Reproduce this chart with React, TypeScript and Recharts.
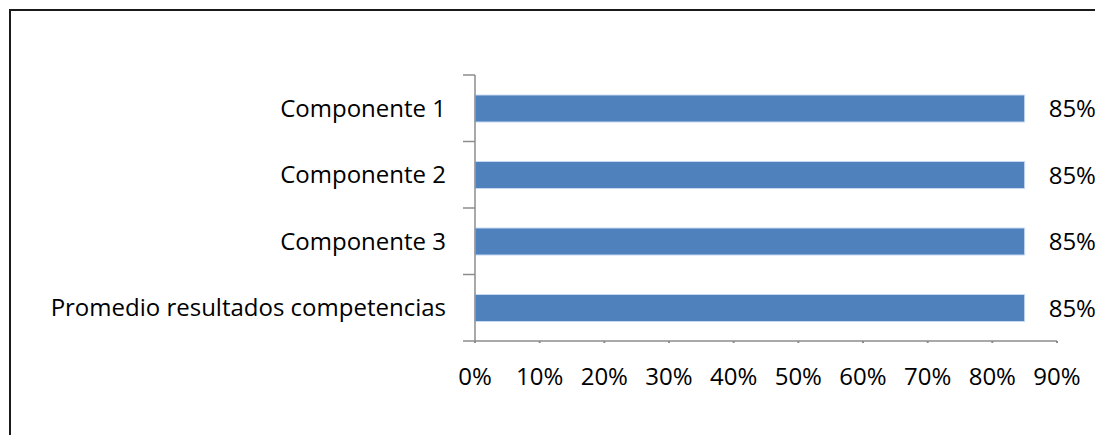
import React from 'react';
import { BarChart, Bar, XAxis, YAxis, LabelList } from 'recharts';

const categories = [
  'Componente 1',
  'Componente 2',
  'Componente 3',
  'Promedio resultados competencias',
];
const values = [0.85, 0.85, 0.85, 0.85];
const xTicks = [0, 0.1, 0.2, 0.3, 0.4, 0.5, 0.6, 0.7, 0.8, 0.9];
// band boundaries on the category axis (Excel puts ticks between categories)
const bandTicks = [0, 1, 2, 3, 4];

const data = categories.map((name, i) => ({ name, value: values[i], pos: i + 0.5 }));

const pct = (v: number) => `${Math.round(v * 100)}%`;

const font = '"Open Sans", "Noto Sans", sans-serif';
const axisGray = '#8c8c8c';

const App: React.FC = () => {
  return (
    <div
      style={{
        position: 'absolute',
        left: 0,
        top: 0,
        width: 1095,
        height: 435,
        background: '#fff',
        overflow: 'hidden',
        fontFamily: font,
      }}
    >
      <div
        style={{
          position: 'absolute',
          left: 9,
          top: 9,
          width: 1200,
          height: 600,
          borderTop: '2px solid #1a1a1a',
          borderLeft: '2px solid #1a1a1a',
        }}
      />
      <div style={{ position: 'absolute', left: 0, top: 0 }}>
        <BarChart
          width={1095}
          height={435}
          data={data}
          layout="vertical"
          margin={{ top: 75, right: 38, left: 0, bottom: 54 }}
        >
          <XAxis
            type="number"
            domain={[0, 0.9]}
            ticks={xTicks}
            tickFormatter={pct}
            height={40}
            axisLine={{ stroke: axisGray, strokeWidth: 1.5 }}
            tickLine={{ stroke: axisGray, strokeWidth: 2, strokeDasharray: '0 5 2' }}
            tickSize={7}
            tickMargin={20}
            tick={{ fill: '#000', fontSize: 24, fontFamily: font }}
            interval={0}
          />
          <YAxis
            yAxisId="bands"
            type="number"
            dataKey="pos"
            domain={[0, 4]}
            allowDataOverflow
            ticks={bandTicks}
            width={1}
            tickFormatter={() => ''}
            axisLine={{ stroke: axisGray, strokeWidth: 1.5 }}
            tickLine={{ stroke: axisGray, strokeWidth: 1.5 }}
            tickSize={12}
            interval={0}
          />
          <YAxis
            yAxisId="cat"
            type="category"
            dataKey="name"
            width={474}
            axisLine={false}
            tickLine={false}
            tickSize={0}
            tickMargin={28}
            tick={{ fill: '#000', fontSize: 24, fontFamily: font }}
            interval={0}
          />
          <Bar
            yAxisId="cat"
            dataKey="value"
            fill="#4f81bd"
            stroke="#c6d9f1"
            strokeWidth={1}
            barSize={27}
            isAnimationActive={false}
          >
            <LabelList
              dataKey="value"
              position="right"
              offset={24}
              formatter={(v: any) => pct(Number(v))}
              style={{ fill: '#000', fontSize: 24, fontFamily: font }}
            />
          </Bar>
        </BarChart>
      </div>
    </div>
  );
};

export default App;
